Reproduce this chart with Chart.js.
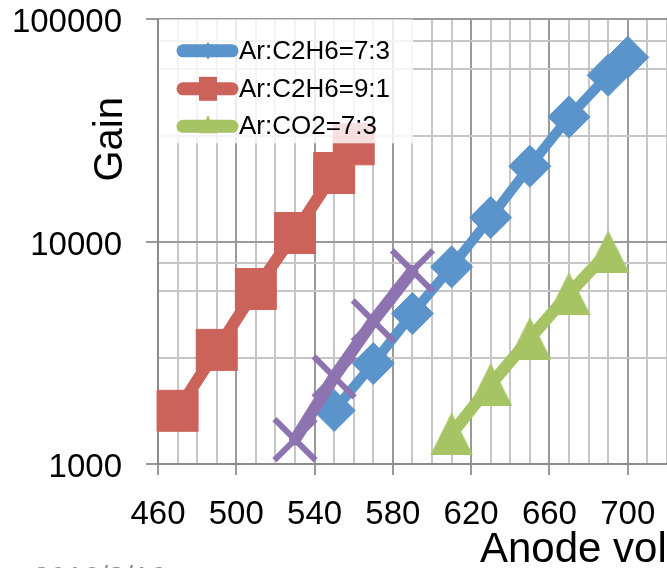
<!DOCTYPE html>
<html>
<head>
<meta charset="utf-8">
<title>Gain vs anode voltage</title>
<script src="https://cdn.jsdelivr.net/npm/chart.js@4.4.1/dist/chart.umd.min.js"></script>
<style>
  html, body { margin: 0; padding: 0; background: #fff; overflow: hidden; }
  #wrap { width: 667px; height: 568px; overflow: hidden; position: relative; }
  canvas { display: block; }
</style>
</head>
<body>
<div id="wrap"><canvas id="gain" width="760" height="568"></canvas></div>
<script>
// Measured gas gain against anode voltage (V) for each gas mixture
const voltC2H6_73 = [550, 570, 590, 610, 630, 650, 670, 690, 700];
const gainC2H6_73 = [1740, 2830, 4750, 7700, 12840, 21840, 36400, 56000, 67500];

const voltC2H6_91 = [470, 490, 510, 530, 550, 560];
const gainC2H6_91 = [1735, 3260, 6120, 10930, 20350, 27400];

const voltCO2_73 = [610, 630, 650, 670, 690];
const gainCO2_73 = [1365, 2280, 3670, 5840, 8990];

const voltSeries4 = [530, 550, 570, 590];
const gainSeries4 = [1288, 2463, 4400, 7384];

const seriesNames = ['Ar:C2H6=7:3', 'Ar:C2H6=9:1', 'Ar:CO2=7:3', 'Series4'];

// Axis ticks
const xTickLabels = [460, 500, 540, 580, 620, 660, 700];
const yTickLabels = [1000, 10000, 100000];
const yGridValues = [1000, 2000, 3000, 4000, 5000, 6000, 7000, 8000, 9000,
                     10000, 20000, 30000, 40000, 50000, 60000, 70000, 80000, 90000,
                     100000];

const FONT = "'Liberation Sans', Arial, sans-serif";
const BLUE = '#5B93CB';
const RED = '#CC635B';
const GREEN = '#A7C465';
const PURPLE = '#8D74B1';
const GRID_MAJOR = '#9a9a9a';
const GRID_MINOR = '#c6c6c6';

const pts = (xs, ys) => xs.map((x, i) => ({ x: x, y: ys[i] }));

// Isosceles triangle marker (as wide as it is tall)
function triangleMarker(w, h, fill) {
  const c = document.createElement('canvas');
  c.width = w; c.height = h;
  const g = c.getContext('2d');
  g.fillStyle = fill;
  g.beginPath();
  g.moveTo(w / 2, 0);
  g.lineTo(w, h);
  g.lineTo(0, h);
  g.closePath();
  g.fill();
  return c;
}

// Legend drawn over the plot on a translucent white panel
const overlayLegend = {
  id: 'overlayLegend',
  afterDatasetsDraw(chart) {
    const ctx = chart.ctx;
    const ca = chart.chartArea;
    const left = ca.left + 1, top = ca.top, w = 254, h = 124;
    ctx.save();
    ctx.fillStyle = 'rgba(255,255,255,0.8)';
    ctx.fillRect(left, top, w, h);

    const rows = [31.5, 69.5, 107];
    const items = [
      { ds: chart.data.datasets[0], marker: 'diamond' },
      { ds: chart.data.datasets[1], marker: 'square' },
      { ds: chart.data.datasets[2], marker: 'triangle' }
    ];
    items.forEach((it, i) => {
      const y = top + rows[i];
      const x0 = left + 24, x1 = left + 73, xm = left + 49;
      const col = it.ds.borderColor;
      ctx.strokeStyle = col;
      ctx.lineWidth = 13;
      ctx.lineCap = 'round';
      ctx.beginPath();
      ctx.moveTo(x0, y);
      ctx.lineTo(x1, y);
      ctx.stroke();
      ctx.fillStyle = col;
      ctx.beginPath();
      if (it.marker === 'diamond') {
        ctx.moveTo(xm, y - 9); ctx.lineTo(xm + 5, y); ctx.lineTo(xm, y + 9); ctx.lineTo(xm - 5, y);
      } else if (it.marker === 'square') {
        ctx.rect(xm - 9, y - 12, 18, 24);
      } else {
        ctx.moveTo(xm, y - 11); ctx.lineTo(xm + 9, y + 7); ctx.lineTo(xm - 9, y + 7);
      }
      ctx.closePath();
      ctx.fill();

      ctx.fillStyle = '#000';
      ctx.font = '26px ' + FONT;
      ctx.textAlign = 'left';
      ctx.textBaseline = 'middle';
      ctx.fillText(it.ds.label, left + 80, y + 1);
    });
    ctx.restore();
  }
};

// Axis captions and the date stamp under the chart
const captions = {
  id: 'captions',
  afterDraw(chart) {
    const ctx = chart.ctx;
    const ca = chart.chartArea;
    ctx.save();
    ctx.fillStyle = '#000';
    ctx.font = '40px ' + FONT;
    ctx.textBaseline = 'alphabetic';

    ctx.save();
    ctx.translate(ca.left - 36.5, ca.top + 120);
    ctx.rotate(-Math.PI / 2);
    ctx.textAlign = 'center';
    ctx.fillText('Gain', 0, 0);
    ctx.restore();

    ctx.font = '42px ' + FONT;
    ctx.textAlign = 'left';
    ctx.fillText('Anode voltage (V)', ca.left + 322, ca.bottom + 98);

    ctx.fillStyle = '#8c8c8c';
    ctx.font = '30px ' + FONT;
    ctx.fillText('2016/3/16', 33, 587);
    ctx.restore();
  }
};

const lineBase = {
  tension: 0,
  borderJoinStyle: 'round',
  borderCapStyle: 'round',
  clip: false,
  pointHoverRadius: 0
};

new Chart(document.getElementById('gain'), {
  type: 'line',
  data: {
    datasets: [
      Object.assign({}, lineBase, {
        label: seriesNames[0],
        data: pts(voltC2H6_73, gainC2H6_73),
        borderColor: BLUE, backgroundColor: BLUE, borderWidth: 10,
        pointStyle: 'rectRot', pointRadius: 21,
        pointBackgroundColor: BLUE, pointBorderColor: BLUE, pointBorderWidth: 1,
        order: 3
      }),
      Object.assign({}, lineBase, {
        label: seriesNames[1],
        data: pts(voltC2H6_91, gainC2H6_91),
        borderColor: RED, backgroundColor: RED, borderWidth: 12,
        pointStyle: 'rect', pointRadius: 29,
        pointBackgroundColor: RED, pointBorderColor: RED, pointBorderWidth: 1,
        order: 2
      }),
      Object.assign({}, lineBase, {
        label: seriesNames[2],
        data: pts(voltCO2_73, gainCO2_73),
        borderColor: GREEN, backgroundColor: GREEN, borderWidth: 12,
        pointStyle: triangleMarker(43, 43, GREEN), pointRadius: 22,
        pointBackgroundColor: GREEN, pointBorderColor: GREEN, pointBorderWidth: 0,
        order: 1
      }),
      Object.assign({}, lineBase, {
        label: seriesNames[3],
        data: pts(voltSeries4, gainSeries4),
        borderColor: PURPLE, backgroundColor: PURPLE, borderWidth: 12,
        pointStyle: 'crossRot', pointRadius: 29,
        pointBackgroundColor: PURPLE, pointBorderColor: PURPLE, pointBorderWidth: 6,
        order: 0
      })
    ]
  },
  options: {
    responsive: false,
    animation: false,
    events: [],
    layout: { autoPadding: false, padding: { top: 19.3, left: 0, right: 54, bottom: 0 } },
    plugins: {
      legend: { display: false },
      tooltip: { enabled: false }
    },
    scales: {
      x: {
        type: 'linear',
        min: 460,
        max: 740,
        afterFit: (s) => {
          s.height = 104;
          s.paddingLeft = 0; s.paddingRight = 0;
        },
        ticks: {
          stepSize: 10,
          autoSkip: false,
          maxRotation: 0,
          color: '#000',
          padding: 20,
          font: { family: FONT, size: 33 },
          callback: (v) => xTickLabels.includes(v) ? String(v) : ''
        },
        grid: {
          lineWidth: 2,
          tickLength: 11,
          color: (c) => (c.tick && xTickLabels.includes(c.tick.value)) ? GRID_MAJOR : GRID_MINOR,
          tickColor: (c) => (c.tick && xTickLabels.includes(c.tick.value)) ? GRID_MAJOR : 'rgba(0,0,0,0)'
        },
        border: { color: '#8a8a8a', width: 2 }
      },
      y: {
        type: 'logarithmic',
        min: 1000,
        max: 100000,
        afterFit: (s) => {
          s.width = 158;
          s.paddingTop = 0; s.paddingBottom = 0;
        },
        afterBuildTicks: (s) => {
          s.ticks = yGridValues.map((v) => ({ value: v, major: yTickLabels.includes(v) }));
        },
        ticks: {
          color: '#000',
          padding: 24,
          labelOffset: 4,
          font: { family: FONT, size: 33 },
          callback: (v) => yTickLabels.includes(v) ? String(v) : ''
        },
        grid: {
          lineWidth: 2,
          tickLength: 12,
          color: (c) => (c.tick && yTickLabels.includes(c.tick.value)) ? GRID_MAJOR : GRID_MINOR,
          tickColor: (c) => (c.tick && yTickLabels.includes(c.tick.value)) ? GRID_MAJOR : 'rgba(0,0,0,0)'
        },
        border: { color: '#8a8a8a', width: 2 }
      }
    }
  },
  plugins: [overlayLegend, captions]
});
</script>
</body>
</html>
